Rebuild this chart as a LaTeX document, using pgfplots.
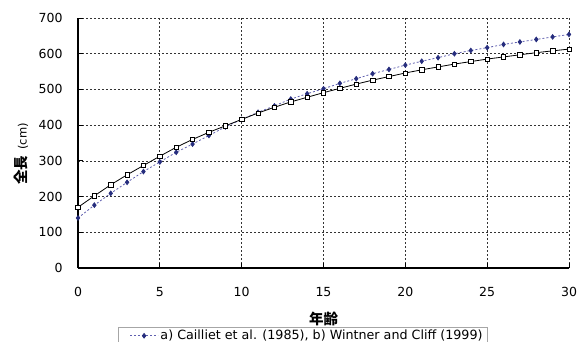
\documentclass[border=0pt]{standalone}
\usepackage{pgfplots}
\pgfplotsset{compat=1.18}
\usepackage{fontspec}
\setmainfont{DejaVu Sans}
\newfontfamily\cjk{Noto Sans CJK JP}
\definecolor{navy}{RGB}{38,45,125}
\definecolor{blline}{RGB}{95,95,175}
\begin{document}
\begin{tikzpicture}
\begin{scope}
\clip (-78pt,-74pt) rectangle (508pt,268pt);
\begin{axis}[
  at={(0,0)}, anchor=origin,
  width=491pt, height=250pt, scale only axis,
  xmin=0, xmax=30, ymin=0, ymax=700,
  xtick={0,5,...,30}, ytick={0,100,...,700},
  /pgf/number format/assume math mode=true,
  axis x line*=bottom, axis y line*=left,
  axis line style={black, line width=1.4pt},
  grid=major,
  grid style={black!80, line width=0.7pt, dash pattern=on 2pt off 2pt},
  tick align=inside, major tick length=5pt,
  tick style={black, line width=0.8pt},
  ticklabel style={font=\fontsize{12.5}{14}\selectfont},
  xticklabel style={yshift=-16pt},
  yticklabel style={xshift=-12pt},
  xlabel={\cjk\bfseries 年齢},
  ylabel={{\cjk\bfseries 全長}\hspace{6pt}{\fontsize{11.5}{13}\selectfont (cm)}},
  xlabel style={font=\fontsize{14.5}{16}\selectfont, at={(rel axis cs:0.5,0)}, anchor=center, yshift=-51pt},
  ylabel style={font=\fontsize{14.5}{16}\selectfont, at={(rel axis cs:-0.116,0.456)}, anchor=center},
  legend style={at={(rel axis cs:0,0)}, anchor=north west, xshift=39.5pt, yshift=-58.5pt,
    draw=black!35, font=\fontsize{12.7}{14}\selectfont, inner xsep=3pt, inner ysep=1.5pt},
  legend cell align=left,
  legend image code/.code={\path (0pt,0pt); \draw[mark repeat=2,mark phase=2,#1] plot coordinates {(9pt,0pt)(23pt,0pt)(37pt,0pt)};},
]
\addplot[blline, line width=0.8pt, dash pattern=on 2pt off 2pt,
  mark=diamond*, mark size=2.3pt, mark options={solid, fill=navy, draw=navy}]
coordinates {(0,140)(1,176)(2,209)(3,240)(4,270)(5,297)(6,324)(7,347)(8,371)(9,395)(10,416)
(11,436)(12,454)(13,473)(14,488)(15,502)(16,517)(17,530)(18,544)(19,556)(20,568)
(21,579)(22,589)(23,600)(24,609)(25,617)(26,626)(27,633)(28,640)(29,647)(30,654)};
\addlegendentry{a) Cailliet et al. (1985), b) Wintner and Cliff (1999)}
\addplot[black, line width=0.8pt, mark=square*, mark size=2.2pt,
  mark options={solid, fill=white, draw=black, line width=0.6pt}, forget plot]
coordinates {(0,170)(1,202)(2,233)(3,261)(4,287)(5,313)(6,338)(7,360)(8,380)(9,398)(10,416)
(11,434)(12,450)(13,465)(14,478)(15,491)(16,503)(17,515)(18,526)(19,536)(20,546)
(21,555)(22,563)(23,571)(24,578)(25,585)(26,591)(27,597)(28,603)(29,608)(30,613)};
\end{axis}
\end{scope}
\pgfresetboundingbox
\useasboundingbox (-78pt,-74pt) rectangle (508pt,268pt);
\end{tikzpicture}
\end{document}
